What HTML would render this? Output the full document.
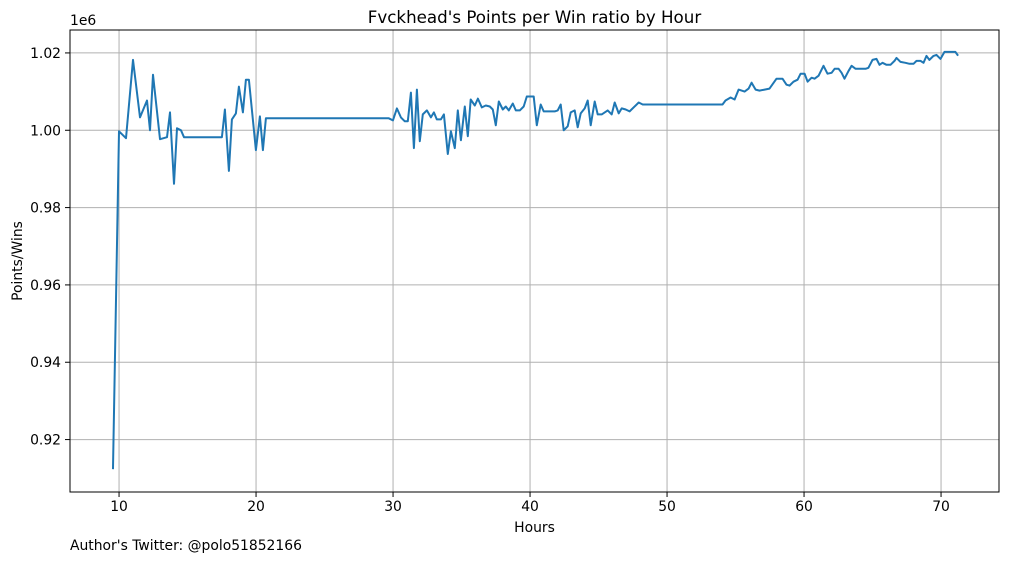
<!DOCTYPE html>
<html><head><meta charset="utf-8"><style>
html,body{margin:0;padding:0;background:#fff;}
svg{display:block;font-family:"DejaVu Sans","Liberation Sans",sans-serif;}
</style></head><body>
<svg id="chart" width="1010" height="562" viewBox="0 0 1010 562"></svg>
<script>
const hours=[9.56,10.0,10.51,11.02,11.53,12.04,12.26,12.48,12.99,13.50,13.72,14.01,14.23,14.52,14.74,17.51,17.73,18.02,18.24,18.53,18.75,19.04,19.26,19.48,19.99,20.28,20.50,20.72,29.69,29.99,30.28,30.57,30.86,31.08,31.30,31.52,31.74,31.95,32.17,32.47,32.76,32.98,33.19,33.49,33.71,34.00,34.22,34.51,34.73,34.95,35.24,35.46,35.67,35.97,36.19,36.48,36.77,37.06,37.28,37.50,37.72,38.01,38.23,38.45,38.74,38.96,39.25,39.54,39.76,40.27,40.49,40.78,41.00,41.80,42.02,42.24,42.46,42.75,42.97,43.26,43.48,43.70,43.99,44.21,44.43,44.72,44.94,45.23,45.67,45.96,46.18,46.47,46.69,46.98,47.27,47.93,48.22,54.05,54.27,54.64,54.93,55.22,55.66,55.95,56.17,56.46,56.75,57.12,57.48,57.99,58.43,58.72,58.94,59.23,59.53,59.75,60.04,60.26,60.55,60.77,61.06,61.42,61.71,62.01,62.23,62.52,62.74,62.95,63.25,63.47,63.76,64.49,64.70,65.00,65.29,65.51,65.73,66.02,66.31,66.60,66.75,67.04,67.40,67.70,67.99,68.21,68.50,68.72,68.94,69.15,69.45,69.67,69.96,70.25,71.05,71.20];
const ratio=[912600,999740,997950,1018200,1003330,1007690,1000000,1014360,997690,998200,1004620,986150,1000510,1000000,998200,998200,1005380,989490,1002820,1004360,1011280,1004620,1013080,1013080,994870,1003590,994870,1003080,1003080,1002560,1005640,1003330,1002310,1002310,1009740,995380,1010510,997180,1004100,1005130,1003330,1004620,1002820,1002820,1004100,993850,999740,995380,1005130,997440,1006150,998460,1007950,1006410,1008200,1005900,1006410,1006150,1005380,1001280,1007440,1005380,1006150,1005130,1006920,1005130,1005130,1006150,1008720,1008720,1001280,1006670,1004870,1004870,1005130,1006670,1000000,1001030,1004620,1005130,1000770,1004360,1005640,1007690,1001280,1007440,1004100,1004100,1005130,1004100,1007180,1004360,1005640,1005380,1004870,1007180,1006670,1006670,1007690,1008460,1007950,1010510,1010000,1010770,1012310,1010510,1010260,1010510,1010770,1013330,1013330,1011790,1011540,1012560,1013080,1014620,1014620,1012560,1013590,1013330,1014100,1016670,1014620,1014870,1015900,1015900,1014870,1013330,1015380,1016670,1015900,1015900,1016150,1018200,1018460,1016920,1017440,1016920,1016920,1017950,1018720,1017690,1017440,1017180,1017180,1017950,1017950,1017440,1019230,1018200,1019230,1019490,1018460,1020260,1020260,1019490];
const xTicks=[10,20,30,40,50,60,70];
const yTicks=[920000,940000,960000,980000,1000000,1020000];
const yTickLabels=["0.92","0.94","0.96","0.98","1.00","1.02"];

const L=70,R=999,T=30,B=492;
const xMin=6.42,xMax=74.23,yMin=906440,yMax=1025930;
const FS=13.9;
const sx=v=>L+(v-xMin)/(xMax-xMin)*(R-L);
const sy=v=>B-(v-yMin)/(yMax-yMin)*(B-T);
const svg=document.getElementById('chart');
const NS='http://www.w3.org/2000/svg';
function mk(tag,attrs,text){const e=document.createElementNS(NS,tag);for(const k in attrs)e.setAttribute(k,attrs[k]);if(text!==undefined)e.textContent=text;svg.appendChild(e);return e;}

xTicks.forEach(t=>{const x=sx(t);
 let g=mk('line',{x1:x,x2:x,y1:T,y2:B,stroke:'#b0b0b0','stroke-width':1});
 
 let k=mk('line',{x1:x,x2:x,y1:B,y2:B+5,stroke:'#000','stroke-width':1});
 
 let l=mk('text',{x:x,y:B+19,'text-anchor':'middle','font-size':FS,fill:'#000'},String(t));
 
});
yTicks.forEach((t,i)=>{const y=sy(t);
 let g=mk('line',{x1:L,x2:R,y1:y,y2:y,stroke:'#b0b0b0','stroke-width':1});
 
 let k=mk('line',{x1:L-5,x2:L,y1:y,y2:y,stroke:'#000','stroke-width':1});
 
 let l=mk('text',{x:L-9,y:y+5,'text-anchor':'end','font-size':FS,fill:'#000'},yTickLabels[i]);
 
});

const pts=hours.map((h,i)=>sx(h).toFixed(1)+','+sy(ratio[i]).toFixed(1)).join(' ');
const line=mk('polyline',{points:pts,fill:'none',stroke:'#1f77b4','stroke-width':2,'stroke-linejoin':'round','stroke-linecap':'square'});



const frame=mk('rect',{x:L,y:T,width:R-L,height:B-T,fill:'none',stroke:'#000','stroke-width':1});



const title=mk('text',{x:(L+R)/2,y:23,'text-anchor':'middle','font-size':16.7,fill:'#000'},"Fvckhead's Points per Win ratio by Hour");


const off=mk('text',{x:L,y:25,'font-size':FS,fill:'#000'},"1e6");


const xl=mk('text',{x:(L+R)/2,y:532,'text-anchor':'middle','font-size':FS,fill:'#000'},"Hours");


const yl=mk('text',{x:0,y:0,'text-anchor':'middle','font-size':FS,fill:'#000',transform:'translate(22,261) rotate(-90)'},"Points/Wins");


const ft=mk('text',{x:L,y:550,'font-size':FS,fill:'#000'},"Author's Twitter: @polo51852166");


</script>
</body></html>
